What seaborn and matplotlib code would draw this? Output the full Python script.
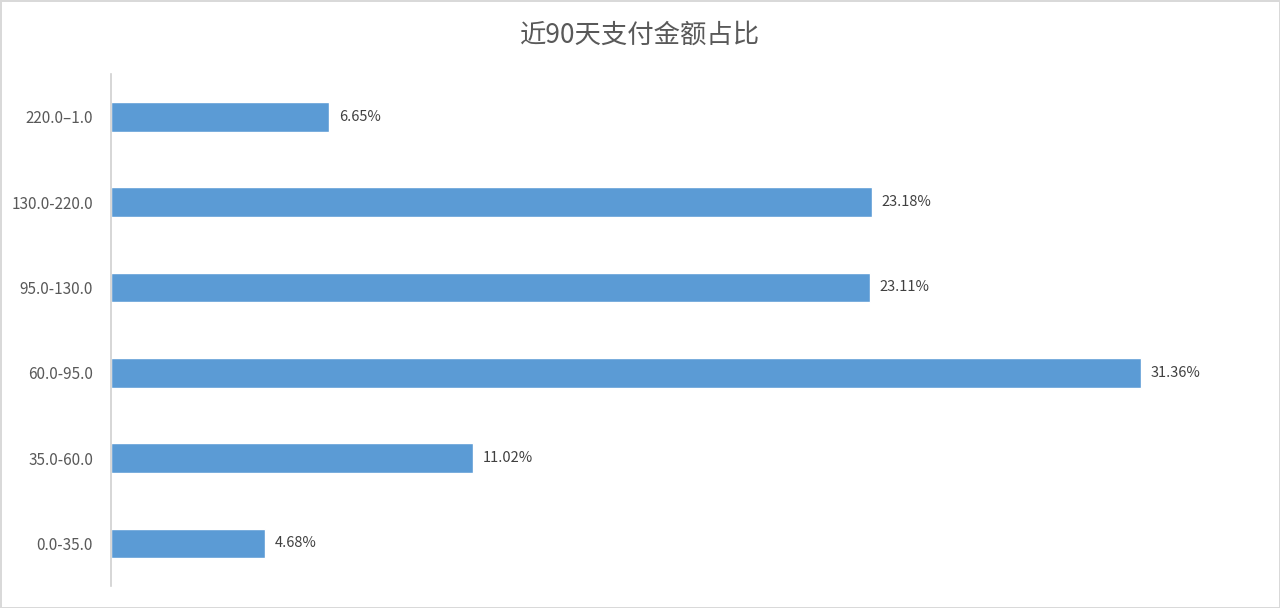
import pandas as pd
import matplotlib.pyplot as plt
import seaborn as sns

# données
categories = ["220.0–1.0", "130.0-220.0", "95.0-130.0", "60.0-95.0", "35.0-60.0", "0.0-35.0"]
values = [6.65, 23.18, 23.11, 31.36, 11.02, 4.68]
labels = ["6.65%", "23.18%", "23.11%", "31.36%", "11.02%", "4.68%"]

df = pd.DataFrame({"range": categories, "pct": values})

sns.set_style("white")
plt.rcParams["font.family"] = ["Noto Sans CJK SC", "DejaVu Sans"]

fig = plt.figure(figsize=(12.8, 6.08), dpi=100)
fig.patch.set_edgecolor("#d9d9d9")
fig.patch.set_linewidth(2)
ax = fig.add_axes([0.0867, 0.036, 0.89, 0.842])

sns.barplot(data=df, y="range", x="pct", color="#5b9bd5", saturation=1, width=0.35, ax=ax)

for i, (v, lab) in enumerate(zip(values, labels)):
    ax.text(v + 0.3, i, lab, va="center", ha="left", fontsize=10.5, color="#404040")

ax.set_xlim(0, 34.7)
ax.set_ylim(5.5, -0.5)
ax.set_xlabel("")
ax.set_ylabel("")
ax.set_xticks([])
ax.tick_params(axis="y", length=0, labelsize=11, labelcolor="#595959", pad=13)
for s in ["top", "right", "bottom"]:
    ax.spines[s].set_visible(False)
ax.spines["left"].set_color("#d0d0d0")
ax.spines["left"].set_linewidth(1.2)

fig.suptitle("近90天支付金额占比", y=0.965, fontsize=19, color="#595959")

fig.savefig("out.png", dpi=100)
